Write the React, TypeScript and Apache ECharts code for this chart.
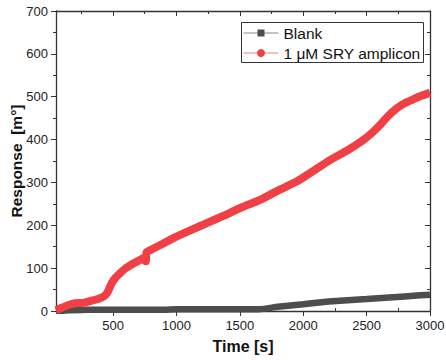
import React, { useEffect, useRef } from "react";
import * as echarts from "echarts";

const blankTime = [50, 150, 300, 600, 900, 1000, 1300, 1650, 1800, 2000, 2200, 2500, 2800, 3000];
const blankResp = [0, 1.5, 3, 3, 3, 4, 4, 4, 10, 16, 22, 28, 34, 38];

const sryTime = [50, 100, 150, 200, 265, 330, 397, 430, 450, 470, 489, 520, 555, 600, 660, 700, 739, 750, 758, 765, 800, 900, 975, 1100, 1239, 1370, 1501, 1600, 1685, 1800, 1948, 2080, 2211, 2350, 2474, 2540, 2606, 2670, 2737, 2800, 2868, 2930, 3000];
const sryResp = [2, 8, 14, 18, 19, 24, 30, 35, 41, 52, 65, 78, 88, 100, 111, 117, 123, 118, 116, 137, 143, 158, 170, 187, 205, 222, 240, 252, 263, 281, 302, 327, 352, 375, 399, 415, 434, 455, 473, 485, 494, 502, 509];

const xMajor = [500, 1000, 1500, 2000, 2500, 3000];
const xMinor = [250, 750, 1250, 1750, 2250, 2750];
const seriesNames = ["Blank", "1 μM SRY amplicon"];

const FONT = "Liberation Sans, Arial, sans-serif";
const AX = "#333";
const GRAY = "#4d4d4d";
const RED = "#f04045";

export default function App() {
  const ref = useRef<HTMLDivElement>(null);
  useEffect(() => {
    const chart = echarts.init(ref.current!, null, { renderer: "svg" });
    const zip = (xs: number[], ys: number[]) => xs.map((x, i) => [x, ys[i]]);
    const baseX = {
      type: "value",
      min: 50,
      max: 3000,
      splitLine: { show: false },
    };
    const legendText = { fontFamily: FONT, fontSize: 15.5, fill: "#111" };
    chart.setOption({
      animation: false,
      backgroundColor: "#fff",
      grid: { left: 56, right: 16, top: 11, bottom: 49, containLabel: false, outerBoundsMode: "none" },
      graphic: [
        {
          type: "group",
          left: 241,
          top: 22,
          z: 100,
          children: [
            { type: "rect", shape: { x: 0, y: 0, width: 182, height: 40 }, style: { fill: "#fff", stroke: "#333", lineWidth: 1 } },
            { type: "line", shape: { x1: 2, y1: 10.5, x2: 37, y2: 10.5 }, style: { stroke: "#888", lineWidth: 1 } },
            { type: "rect", shape: { x: 16, y: 7, width: 7, height: 7 }, style: { fill: GRAY } },
            { type: "text", x: 42, y: 10.5, style: { ...legendText, text: seriesNames[0], verticalAlign: "middle" } },
            { type: "line", shape: { x1: 2, y1: 30.5, x2: 37, y2: 30.5 }, style: { stroke: "#f08080", lineWidth: 1 } },
            { type: "circle", shape: { cx: 19.5, cy: 30.5, r: 4 }, style: { fill: RED } },
            { type: "text", x: 42, y: 30.5, style: { ...legendText, text: seriesNames[1], verticalAlign: "middle" } },
          ],
        },
      ],
      xAxis: [
        {
          ...baseX,
          position: "bottom",
          name: "Time [s]",
          nameLocation: "middle",
          nameGap: 27,
          nameMoveOverlap: false,
          nameTextStyle: { fontFamily: FONT, fontSize: 16, fontWeight: "bold", color: "#111" },
          axisLine: { show: true, onZero: false, lineStyle: { color: AX, width: 1.3 } },
          axisTick: { show: true, inside: false, length: 5, customValues: xMajor, lineStyle: { color: AX } },
          axisLabel: { show: true, customValues: xMajor, formatter: (v: number) => String(v), fontFamily: FONT, fontSize: 13, color: "#222", margin: 8 },
        },
        {
          ...baseX,
          position: "bottom",
          axisLine: { show: false, onZero: false },
          axisTick: { show: true, inside: true, length: 3, customValues: xMinor, lineStyle: { color: AX } },
          axisLabel: { show: false },
        },
        {
          ...baseX,
          position: "top",
          axisLine: { show: true, onZero: false, lineStyle: { color: AX, width: 1.3 } },
          axisTick: { show: true, inside: true, length: 5, customValues: xMajor, lineStyle: { color: AX } },
          axisLabel: { show: false },
        },
        {
          ...baseX,
          position: "top",
          axisLine: { show: false, onZero: false },
          axisTick: { show: true, inside: true, length: 3, customValues: xMinor, lineStyle: { color: AX } },
          axisLabel: { show: false },
        },
      ],
      yAxis: [
        {
          type: "value",
          min: 0,
          max: 700,
          interval: 100,
          position: "left",
          name: "Response  [m°]",
          nameLocation: "middle",
          nameGap: 32,
          nameMoveOverlap: false,
          nameTextStyle: { fontFamily: FONT, fontSize: 15.5, fontWeight: "bold", color: "#111" },
          splitLine: { show: false },
          axisLine: { show: true, onZero: false, lineStyle: { color: AX, width: 1.3 } },
          axisTick: { show: true, inside: false, length: 5, lineStyle: { color: AX } },
          minorTick: { show: true, splitNumber: 2, length: 3, lineStyle: { color: AX } },
          axisLabel: { fontFamily: FONT, fontSize: 13, color: "#222", margin: 8 },
        },
        {
          type: "value",
          min: 0,
          max: 700,
          interval: 100,
          position: "right",
          splitLine: { show: false },
          axisLine: { show: true, onZero: false, lineStyle: { color: AX, width: 1.3 } },
          axisTick: { show: true, inside: true, length: 5, lineStyle: { color: AX } },
          minorTick: { show: true, splitNumber: 2, length: 3, lineStyle: { color: AX } },
          axisLabel: { show: false },
        },
      ],
      series: [
        {
          name: seriesNames[0],
          type: "line",
          xAxisIndex: 0,
          yAxisIndex: 0,
          data: zip(blankTime, blankResp),
          showSymbol: false,
          smooth: 0.2,
          color: GRAY,
          lineStyle: { width: 6.5, color: GRAY, cap: "butt" },
          z: 2,
        },
        {
          name: seriesNames[1],
          type: "line",
          xAxisIndex: 0,
          yAxisIndex: 0,
          data: zip(sryTime, sryResp),
          showSymbol: false,
          smooth: 0.2,
          color: RED,
          lineStyle: { width: 8, color: RED, cap: "butt" },
          z: 3,
        },
      ],
    });
    return () => chart.dispose();
  }, []);
  return <div ref={ref} style={{ width: 446, height: 360, position: "absolute", left: 0, top: 0 }} />;
}
